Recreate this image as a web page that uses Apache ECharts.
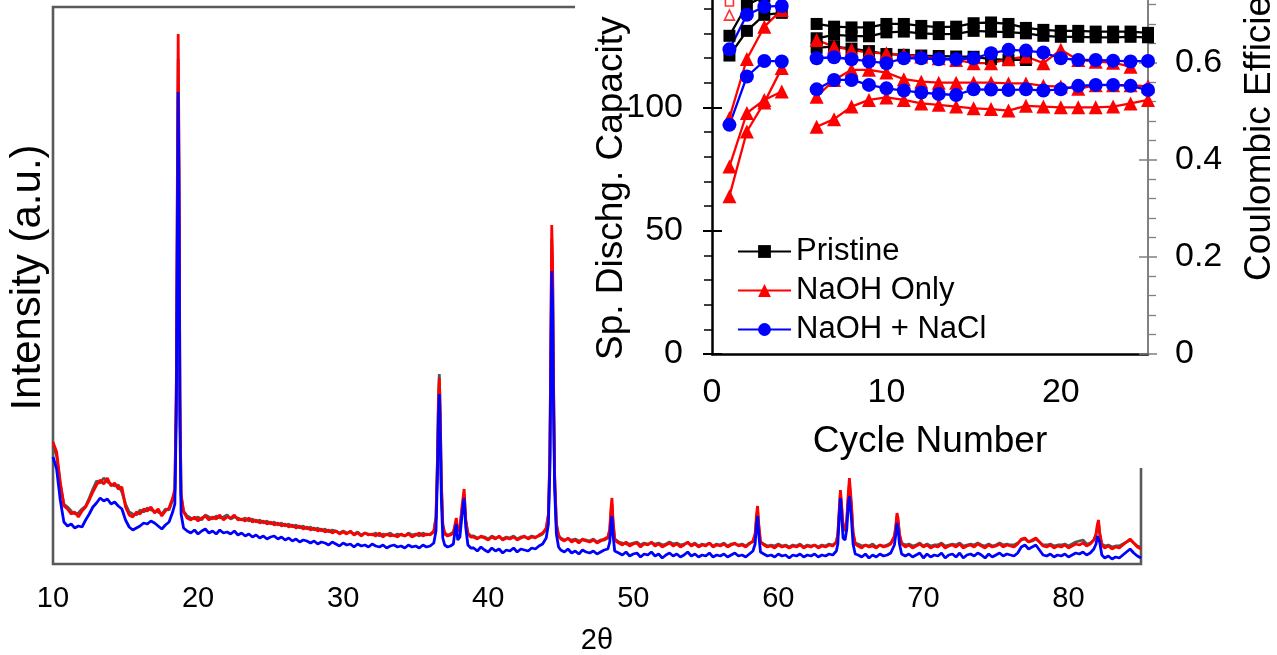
<!DOCTYPE html>
<html>
<head>
<meta charset="utf-8">
<script src="https://cdn.jsdelivr.net/npm/echarts@6.0.0/dist/echarts.min.js"></script>
<style>
  html, body { margin: 0; padding: 0; background: #ffffff; }
  #chart { width: 1277px; height: 655px; }
</style>
</head>
<body>
<div id="chart"></div>
<script>
// ---------- XRD patterns (2θ in degrees, intensity in arbitrary units) ----------
const twoTheta = [
  10,10.25,10.5,10.75,11,11.25,11.5,11.75,12,12.25,12.5,12.75,13,13.25,13.5,13.75,14,14.25,14.5,14.75,15,15.25,15.5,15.75,16,16.25,16.5,16.75,17,17.25,17.5,17.75,18,18.25,
  18.4,18.5,18.57,18.63,18.69,18.75,18.83,
  19,19.25,19.5,19.75,20,20.25,20.5,20.75,21,21.25,21.5,21.75,22,22.25,22.5,22.75,23,23.25,23.5,23.75,24,24.25,24.5,24.75,25,25.25,25.5,25.75,26,26.25,26.5,26.75,27,27.25,27.5,27.75,28,28.25,28.5,28.75,29,29.25,29.5,29.75,30,30.25,30.5,30.75,31,31.25,31.5,31.75,32,32.25,32.5,32.75,33,33.25,33.5,33.75,34,34.25,34.5,34.75,35,35.25,35.5,35.75,36,36.25,
  36.4,36.5,36.57,36.63,36.69,36.77,36.87,
  37,37.2,37.4,37.6,37.72,37.8,37.9,38.05,38.2,38.34,38.45,38.6,38.8,
  39,39.25,39.5,39.75,40,40.25,40.5,40.75,41,41.25,41.5,41.75,42,42.25,42.5,42.75,43,43.25,43.5,43.75,44,
  44.15,44.25,44.32,44.38,44.44,44.5,44.58,44.7,44.85,
  45,45.25,45.5,45.75,46,46.25,46.5,46.75,47,47.25,47.5,47.75,48,48.25,
  48.38,48.46,48.53,48.6,48.72,
  49,49.25,49.5,49.75,50,50.25,50.5,50.75,51,51.25,51.5,51.75,52,52.25,52.5,52.75,53,53.25,53.5,53.75,54,54.25,54.5,54.75,55,55.25,55.5,55.75,56,56.25,56.5,56.75,57,57.25,57.5,57.75,58,58.25,
  58.4,58.5,58.57,58.65,58.77,
  59,59.25,59.5,59.75,60,60.25,60.5,60.75,61,61.25,61.5,61.75,62,62.25,62.5,62.75,63,63.25,63.5,63.75,64,
  64.1,64.2,64.28,64.36,64.46,64.6,64.72,64.82,64.9,64.96,65.04,65.15,65.3,
  65.5,65.75,66,66.25,66.5,66.75,67,67.25,67.5,67.75,68,
  68.1,68.18,68.25,68.35,68.5,
  68.75,69,69.25,69.5,69.75,70,70.25,70.5,70.75,71,71.25,71.5,71.75,72,72.25,72.5,72.75,73,73.25,73.5,73.75,74,74.25,74.5,74.75,75,75.25,75.5,75.75,76,76.25,76.5,76.75,77,77.25,77.5,77.75,78,78.25,78.5,78.75,79,79.25,79.5,79.75,80,80.25,80.5,80.75,81,81.25,81.5,81.75,
  81.9,82,82.07,82.15,82.3,
  82.5,82.75,83,83.25,83.5,83.75,84,84.25,84.5,84.75,85
];

const pristineXrd = [
  118,108,80,60,57,53,50,51,55,58,66,75,83,81,86,82,80,78,79,72,60,52,50,49,54,52,56,54,53,52,50,55,54,64,
  72,170,360,505,380,160,68,
  53,48,46,45,47,44,49,47,45,48,46,47,49,45,47,46,44,46,43,45,42,44,41,43,40,42,39,41,38,40,37,39,36,38,35,37,34,36,33,35,32,34,33,31,33,31,32,30,32,29,31,30,29,31,28,30,29,31,28,30,29,28,31,29,30,28,31,29,30,33,
  47,105,168,190,155,84,40,
  31,29,30,32,38,43,33,35,55,70,43,31,28,
  28,26,27,27,25,28,26,27,25,27,26,28,25,27,27,26,28,27,28,30,35,
  48,105,220,325,290,180,86,40,29,
  26,24,25,24,25,23,24,24,23,25,22,24,24,26,
  33,50,60,42,25,
  22,21,20,20,21,22,19,21,20,21,20,21,19,20,22,20,21,19,20,21,19,21,18,20,19,21,18,20,19,21,18,20,20,19,20,18,21,22,
  29,46,53,37,22,
  20,18,19,18,20,18,19,17,19,18,20,17,19,18,19,17,19,18,20,19,22,
  29,52,70,57,37,33,44,66,80,82,57,31,21,
  20,18,19,18,20,17,19,18,19,21,27,
  36,48,43,29,21,
  19,20,18,19,21,18,20,18,19,19,21,18,19,20,19,21,18,19,20,19,21,19,18,20,18,19,21,19,20,19,19,21,24,25,22,23,25,22,19,19,20,18,19,19,20,18,20,22,23,24,20,21,24,
  29,38,41,30,20,
  18,19,17,18,18,20,22,24,21,18,17
];

const naohXrd = [
  122,112,82,58,55,50,52,47,53,57,64,72,79,84,80,86,78,81,75,77,57,49,47,52,50,55,53,57,51,55,48,53,56,66,
  75,180,380,530,400,170,70,
  52,46,44,47,43,46,48,44,47,45,49,44,47,46,49,44,45,43,46,42,44,41,43,40,42,39,41,38,40,37,39,36,38,35,37,34,36,33,35,32,34,31,33,30,32,30,33,29,31,28,31,29,30,28,31,27,30,28,29,27,30,28,30,27,29,31,28,30,29,32,
  45,100,160,186,150,80,38,
  30,28,29,31,40,46,33,36,58,75,45,30,27,
  27,25,28,26,24,27,25,28,24,26,25,27,24,26,28,25,27,26,29,31,36,
  50,110,230,339,300,190,90,40,28,
  25,23,26,22,24,21,25,23,22,24,21,23,25,27,
  35,55,66,45,24,
  21,19,22,18,20,21,17,20,19,22,18,20,17,19,21,18,20,17,19,22,18,20,17,19,18,21,17,19,18,20,17,19,21,18,19,17,20,23,
  30,50,58,40,22,
  19,17,18,16,19,17,18,16,18,17,19,16,18,17,19,16,18,17,19,18,22,
  30,55,74,60,38,34,45,70,86,88,60,32,20,
  18,16,19,17,18,16,19,17,18,20,28,
  38,51,46,30,20,
  17,19,16,18,20,17,19,16,18,17,20,16,18,19,17,20,16,18,19,17,20,18,16,19,17,18,20,17,19,18,17,20,25,26,22,24,26,22,18,17,19,16,18,17,19,16,18,20,19,21,18,20,24,
  30,40,44,32,19,
  16,18,15,17,16,19,22,25,21,17,15
];

const naohNaclXrd = [
  107,95,64,42,38,40,36,38,37,44,50,57,61,66,63,65,60,62,58,55,44,37,34,36,38,41,40,43,41,38,35,39,42,52,
  60,150,320,472,350,140,50,
  36,33,31,34,30,33,35,31,33,30,34,31,32,30,33,29,31,28,30,27,29,26,28,25,27,28,25,27,24,26,23,25,22,24,23,21,23,20,22,21,19,22,20,18,21,19,20,17,20,18,19,17,20,18,17,19,16,18,19,17,18,16,19,17,18,16,19,17,18,21,
  33,88,145,170,135,66,26,
  19,17,18,20,34,40,24,27,50,66,37,19,16,
  16,13,17,14,12,16,13,15,11,14,13,16,12,15,14,13,16,15,18,20,26,
  40,95,200,293,260,160,75,30,17,
  14,12,15,11,13,10,14,12,11,13,10,12,14,15,
  22,40,48,30,13,
  11,9,12,8,10,11,7,10,9,12,8,10,6,9,11,8,10,7,9,12,8,10,7,9,8,11,7,9,8,10,7,9,11,8,9,7,10,13,
  20,40,48,30,12,
  10,8,9,7,10,8,9,6,9,8,10,7,9,8,10,7,9,8,10,9,13,
  20,48,66,50,26,24,35,60,68,66,45,20,10,
  9,7,10,6,9,7,10,8,9,11,19,
  30,41,36,20,10,
  8,10,7,9,11,6,10,7,9,8,11,6,9,10,7,11,6,9,10,8,11,9,6,10,7,9,11,8,10,9,8,11,17,19,15,17,19,14,9,8,10,7,9,8,10,7,9,11,10,12,9,11,15,
  20,28,30,22,9,
  6,8,5,7,6,9,12,15,11,8,6
];

// ---------- Cycling data (specific discharge capacity, mAh/g) ----------
const cyclesEarly = [1, 2, 3, 4];
const cyclesLate = [6, 7, 8, 9, 10, 11, 12, 13, 14, 15, 16, 17, 18, 19, 20, 21, 22, 23, 24, 25];

const pristineEarlyA = [129.0, 141.5, 145.0, 146.0];
const pristineEarlyB = [121.0, 131.0, 137.5, 138.3];
const naohEarlyA = [95.7, 119.6, 132.7, 139.5];
const naohEarlyB = [76.0, 97.7, 103.0, 106.4];
const naohEarlyC = [64.0, 90.2, 102.0, 115.9];
const naohNaclEarlyA = [123.5, 137.5, 140.8, 141.1];
const naohNaclEarlyB = [92.9, 112.5, 118.8, 118.6];

const pristineLateA = [133.8, 132.7, 132.4, 132.4, 133.8, 133.8, 133.0, 132.5, 132.7, 134.1, 134.4, 133.8, 132.2, 131.4, 131.0, 131.0, 130.7, 130.7, 130.7, 130.2];
const pristineLateB = [128.0, 129.4, 129.0, 128.8, 130.4, 130.7, 130.0, 129.7, 129.8, 131.0, 130.7, 130.5, 130.0, 129.0, 128.6, 128.6, 128.4, 128.4, 128.6, 128.4];
const pristineLateC = [124.2, 124.6, 123.8, 122.8, 121.6, 121.3, 121.0, 120.8, 120.6, 120.5, 119.5, 119.2, 119.2, null, null, null, null, null, null, null];
const naohLateA = [127.3, 124.6, 123.3, 122.2, 121.9, 121.3, 120.6, 119.9, 119.2, 117.9, 117.9, 119.5, 120.6, 117.9, 123.3, 119.2, 118.5, 118.1, 116.5, null];
const naohLateB = [104.3, 111.1, 115.2, 115.2, 114.1, 111.4, 110.4, 110.0, 110.0, 110.0, 110.0, 109.7, 109.7, 108.7, 108.4, 107.5, 109.0, 109.0, 109.0, 108.5];
const naohLateC = [92.1, 95.2, 100.3, 103.0, 104.0, 103.0, 101.6, 101.0, 100.3, 99.6, 99.3, 98.7, 100.6, 100.3, 100.0, 100.0, 100.0, 100.3, 101.6, 103.0];
const naohNaclLateA = [119.9, 120.3, 119.5, 118.6, 117.9, 119.9, 119.9, 119.5, 119.5, 119.9, 121.9, 123.3, 123.0, 122.2, 119.9, 119.2, 119.2, 118.9, 118.6, 118.8];
const naohNaclLateB = [107.3, 111.1, 111.1, 109.1, 107.7, 106.8, 106.0, 105.4, 105.0, 107.3, 107.2, 107.0, 107.3, 106.8, 107.3, 108.7, 109.1, 109.1, 108.7, 107.0];

// First-cycle Coulombic efficiency (right axis)
const ceCycles = [1];
const ceNaohA = [0.725];
const ceNaohB = [0.698];

// Axis ticks
const xrdTickStep = 10;
const capacityTickStep = 50;
const ceTickStep = 0.2;
const cycleTickStep = 10;

[pristineXrd, naohXrd, naohNaclXrd].forEach(function (arr, k) {
  if (arr.length !== twoTheta.length) {
    throw new Error('XRD length mismatch in series ' + k + ': ' + arr.length + ' vs ' + twoTheta.length);
  }
});

const FONT = '"Liberation Sans", Arial, Helvetica, sans-serif';
const BLACK = '#000000';
const RED = '#ff0000';
const BLUE = '#0000ff';
const GREY = '#555555';

function pairs(xs, ys) {
  return xs.map(function (x, i) { return [x, ys[i]]; });
}

function xrdLine(name, values, color) {
  return {
    name: name, type: 'line', xAxisIndex: 0, yAxisIndex: 0,
    data: pairs(twoTheta, values),
    showSymbol: false, symbol: 'none',
    lineStyle: { color: color, width: 2.8 },
    itemStyle: { color: color },
    z: 1, silent: true
  };
}

function capLine(name, cycles, values, color, symbol, size) {
  return {
    name: name, type: 'line', xAxisIndex: 1, yAxisIndex: 1,
    data: pairs(cycles, values),
    symbol: symbol, symbolSize: size, showSymbol: true,
    lineStyle: { color: color, width: 2.3 },
    itemStyle: { color: color },
    z: 5, silent: true
  };
}

function ceMarks(name, values, symbol, size) {
  return {
    name: name, type: 'scatter', xAxisIndex: 1, yAxisIndex: 3,
    data: pairs(ceCycles, values),
    symbol: symbol, symbolSize: size,
    itemStyle: { color: '#ffffff', borderColor: RED, borderWidth: 1.6 },
    z: 5, silent: true
  };
}

const chart = echarts.init(document.getElementById('chart'), null, { renderer: 'canvas' });

const option = {
  animation: false,
  backgroundColor: '#ffffff',
  textStyle: { fontFamily: FONT, color: BLACK },
  grid: [
    { left: 53, top: 7, width: 1088, height: 557, show: true, borderColor: '#5a5a5a', borderWidth: 2.6, z: 0, outerBoundsMode: 'none', containLabel: false },
    { left: 712, top: -16, width: 436, height: 370, z: 4, outerBoundsMode: 'none', containLabel: false }
  ],
  xAxis: [
    {
      gridIndex: 0, type: 'value', min: 10, max: 85, interval: xrdTickStep,
      axisLine: { show: false, onZero: false }, axisTick: { show: false }, splitLine: { show: false },
      axisLabel: { fontSize: 29, color: BLACK, margin: 20, fontFamily: FONT, showMaxLabel: false },
      name: '2θ', nameLocation: 'middle', nameGap: 62,
      nameTextStyle: { fontSize: 29, color: BLACK, fontFamily: FONT }
    },
    {
      gridIndex: 1, type: 'value', min: 0, max: 25, interval: cycleTickStep, z: 4,
      axisLine: { show: true, onZero: false, lineStyle: { color: BLACK, width: 2.5 } },
      axisTick: { show: false }, splitLine: { show: false },
      axisLabel: { fontSize: 34, color: BLACK, margin: 22, fontFamily: FONT, showMaxLabel: false },
      name: 'Cycle Number', nameLocation: 'middle', nameGap: 69,
      nameTextStyle: { fontSize: 37, color: BLACK, fontFamily: FONT }
    }
  ],
  yAxis: [
    {
      gridIndex: 0, type: 'value', min: 0, max: 557,
      axisLine: { show: false }, axisTick: { show: false }, axisLabel: { show: false }, splitLine: { show: false },
      name: 'Intensity (a.u.)', nameLocation: 'middle', nameGap: 4, nameRotate: 90,
      nameTextStyle: { fontSize: 42, color: BLACK, fontFamily: FONT, padding: [0, 0, 0, 16] }
    },
    {
      gridIndex: 1, type: 'value', position: 'left', min: 0, max: 150, interval: capacityTickStep, z: 4,
      axisLine: { show: true, onZero: false, lineStyle: { color: BLACK, width: 2.5 } },
      axisTick: { show: true, length: 9, lineStyle: { color: BLACK, width: 2 } },
      minorTick: { show: true, splitNumber: 5, length: 8, lineStyle: { color: BLACK, width: 1.5 } },
      axisLabel: { fontSize: 34, color: BLACK, margin: 29, fontFamily: FONT, showMaxLabel: false },
      splitLine: { show: false }, minorSplitLine: { show: false }
    },
    {
      gridIndex: 1, type: 'value', position: 'left', min: 0, max: 150, interval: capacityTickStep, z: 4,
      axisLine: { show: false },
      axisTick: { show: true, inside: true, length: 10, lineStyle: { color: BLACK, width: 2 } },
      axisLabel: { show: false }, splitLine: { show: false }
    },
    {
      gridIndex: 1, type: 'value', position: 'right', min: 0, max: 0.762, interval: ceTickStep, z: 4,
      axisLine: { show: true, onZero: false, lineStyle: { color: '#808080', width: 2 } },
      axisTick: { show: true, length: 9, lineStyle: { color: '#808080', width: 1.5 } },
      minorTick: { show: true, splitNumber: 5, length: 8, lineStyle: { color: '#808080', width: 1.3 } },
      axisLabel: { fontSize: 34, color: BLACK, margin: 27, fontFamily: FONT, showMaxLabel: false },
      splitLine: { show: false }, minorSplitLine: { show: false }
    },
    {
      gridIndex: 1, type: 'value', position: 'right', min: 0, max: 0.762, interval: ceTickStep, z: 4,
      axisLine: { show: false },
      axisTick: { show: true, inside: true, length: 9, lineStyle: { color: '#808080', width: 1.5 } },
      axisLabel: { show: false }, splitLine: { show: false }
    }
  ],
  legend: {
    orient: 'vertical', left: 737, top: 236, padding: 0, itemGap: 8, itemWidth: 53, itemHeight: 16, z: 6,
    textStyle: { fontSize: 31, color: BLACK, fontFamily: FONT },
    data: ['Pristine', 'NaOH Only', 'NaOH + NaCl'],
    selectedMode: false
  },
  graphic: {
    elements: [
      { type: 'rect', shape: { x: 575, y: 0, width: 702, height: 468 }, style: { fill: '#ffffff' }, z: 3, silent: true },
      {
        type: 'text', x: 612, y: 360, rotation: Math.PI / 2, z: 6, silent: true,
        style: { text: 'Sp. Dischg. Capacity', fontSize: 37, fontFamily: FONT, fill: BLACK, align: 'left', verticalAlign: 'middle' }
      },
      {
        type: 'text', x: 1260, y: 281, rotation: Math.PI / 2, z: 6, silent: true,
        style: { text: 'Coulombic Efficiency', fontSize: 37, fontFamily: FONT, fill: BLACK, align: 'left', verticalAlign: 'middle' }
      }
    ]
  },
  series: [
    xrdLine('Pristine XRD', pristineXrd, GREY),
    xrdLine('NaOH Only XRD', naohXrd, RED),
    xrdLine('NaOH + NaCl XRD', naohNaclXrd, BLUE),

    capLine('Pristine', cyclesEarly, pristineEarlyA, BLACK, 'rect', 12),
    capLine('Pristine', cyclesEarly, pristineEarlyB, BLACK, 'rect', 12),
    capLine('Pristine', cyclesLate, pristineLateA, BLACK, 'rect', 12),
    capLine('Pristine', cyclesLate, pristineLateB, BLACK, 'rect', 12),
    capLine('Pristine', cyclesLate, pristineLateC, BLACK, 'rect', 12),

    capLine('NaOH Only', cyclesEarly, naohEarlyA, RED, 'triangle', 14),
    capLine('NaOH Only', cyclesEarly, naohEarlyB, RED, 'triangle', 14),
    capLine('NaOH Only', cyclesEarly, naohEarlyC, RED, 'triangle', 14),
    capLine('NaOH Only', cyclesLate, naohLateA, RED, 'triangle', 14),
    capLine('NaOH Only', cyclesLate, naohLateB, RED, 'triangle', 14),
    capLine('NaOH Only', cyclesLate, naohLateC, RED, 'triangle', 14),

    capLine('NaOH + NaCl', cyclesEarly, naohNaclEarlyA, BLUE, 'circle', 14),
    capLine('NaOH + NaCl', cyclesEarly, naohNaclEarlyB, BLUE, 'circle', 14),
    capLine('NaOH + NaCl', cyclesLate, naohNaclLateA, BLUE, 'circle', 14),
    capLine('NaOH + NaCl', cyclesLate, naohNaclLateB, BLUE, 'circle', 14),

    ceMarks('NaOH Only CE A', ceNaohA, 'rect', 8),
    ceMarks('NaOH Only CE B', ceNaohB, 'triangle', 10)
  ]
};

chart.setOption(option);
</script>
</body>
</html>
